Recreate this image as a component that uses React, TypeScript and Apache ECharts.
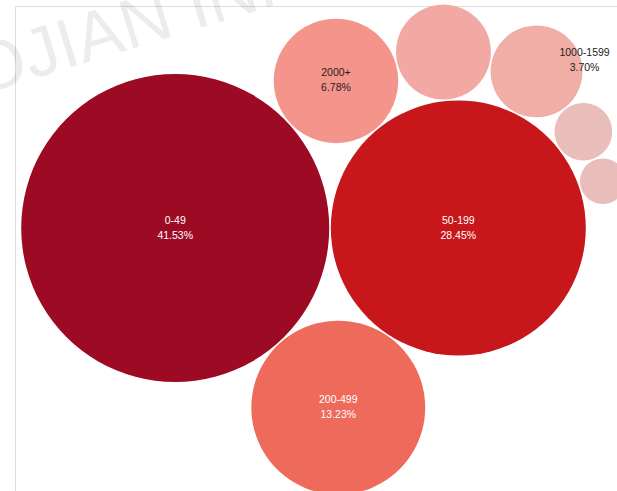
import React, { useEffect, useRef } from 'react';
import * as echarts from 'echarts';

// ---- data ----
const categories = ['0-49', '50-199', '200-499', '2000+', '500-999', '1000-1599', '1600-1999', 'Unknown'];
const shares = [41.53, 28.45, 13.23, 6.78, 3.95, 3.7, 1.45, 0.91];
const colors = ['#9c0a24', '#c8171a', '#ee6a5b', '#f5948a', '#f2a9a3', '#f0aea7', '#e9bdba', '#e9bdba'];
const labelledCategories = ['0-49', '50-199', '200-499', '2000+', '1000-1599'];
const darkTextCategories = ['2000+', '1000-1599'];
const watermarkText = 'OJIAN INFO';

// ---- layout constants ----
const PX_PER_SQRT = 23.9;
const ORIGIN_X = 303.5;
const ORIGIN_Y = 228;
const PACK_PAD = 0.8;
const LABEL_SHIFT: Record<string, [number, number]> = { '1000-1599': [48, -11] };

type Circ = { x: number; y: number; r: number };
type Node = { c: Circ; next?: Node; prev?: Node };

function place(b: Circ, a: Circ, c: Circ) {
  const dx = b.x - a.x;
  const dy = b.y - a.y;
  const d2 = dx * dx + dy * dy;
  if (d2) {
    let a2 = a.r + c.r;
    a2 *= a2;
    let b2 = b.r + c.r;
    b2 *= b2;
    if (a2 > b2) {
      const x = (d2 + b2 - a2) / (2 * d2);
      const y = Math.sqrt(Math.max(0, b2 / d2 - x * x));
      c.x = b.x - x * dx - y * dy;
      c.y = b.y - x * dy + y * dx;
    } else {
      const x = (d2 + a2 - b2) / (2 * d2);
      const y = Math.sqrt(Math.max(0, a2 / d2 - x * x));
      c.x = a.x + x * dx - y * dy;
      c.y = a.y + x * dy + y * dx;
    }
  } else {
    c.x = a.x + c.r;
    c.y = a.y;
  }
}

function intersects(a: Circ, b: Circ) {
  const dr = a.r + b.r - 1e-6;
  const dx = b.x - a.x;
  const dy = b.y - a.y;
  return dr > 0 && dr * dr > dx * dx + dy * dy;
}

// Front-chain packing: each new circle is placed tangent to the last placed
// circle and its clockwise neighbour on the front chain.
function packSiblings(circles: Circ[]) {
  const n = circles.length;
  if (!n) return;
  const a0 = circles[0];
  a0.x = 0;
  a0.y = 0;
  if (n < 2) return;
  const b0 = circles[1];
  a0.x = -b0.r;
  b0.x = a0.r;
  b0.y = 0;
  if (n < 3) return;
  const c0 = circles[2];
  place(b0, a0, c0);
  let a: Node = { c: a0 };
  let b: Node = { c: b0 };
  const c: Node = { c: c0 };
  a.next = c.prev = b;
  b.next = a.prev = c;
  c.next = b.prev = a;
  pack: for (let i = 3; i < n; ++i) {
    const ci = circles[i];
    place(a.c, b.c, ci);
    const node: Node = { c: ci };
    let j = b.next!;
    let k = a.prev!;
    let sj = b.c.r;
    let sk = a.c.r;
    do {
      if (sj <= sk) {
        if (intersects(j.c, ci)) {
          b = j;
          a.next = b;
          b.prev = a;
          --i;
          continue pack;
        }
        sj += j.c.r;
        j = j.next!;
      } else {
        if (intersects(k.c, ci)) {
          a = k;
          a.next = b;
          b.prev = a;
          --i;
          continue pack;
        }
        sk += k.c.r;
        k = k.prev!;
      }
    } while (j !== k.next);
    node.prev = a;
    node.next = b;
    a.next = b.prev = node;
    a = node;
  }
}

function computeLayout(values: number[]) {
  const circles: Circ[] = values.map((v) => ({ x: 0, y: 0, r: PX_PER_SQRT * Math.sqrt(v) + PACK_PAD }));
  packSiblings(circles);
  return circles.map((c) => ({ cx: ORIGIN_X + c.x, cy: ORIGIN_Y + c.y, r: c.r - PACK_PAD }));
}

export default function App() {
  const ref = useRef<HTMLDivElement>(null);
  useEffect(() => {
    if (!ref.current) return;
    const chart = echarts.init(ref.current, undefined, { renderer: 'svg' });
    const layout = computeLayout(shares);
    const font = '"Liberation Sans", Arial, Helvetica, sans-serif';
    chart.setOption({
      animation: false,
      backgroundColor: '#ffffff',
      graphic: [
        {
          type: 'rect',
          z: 0,
          silent: true,
          shape: { x: 15.5, y: 6.5, width: 800, height: 700 },
          style: { fill: 'none', stroke: '#dcdcdc', lineWidth: 1 },
        },
        {
          type: 'text',
          z: 0,
          silent: true,
          x: -38,
          y: 39,
          rotation: (17 * Math.PI) / 180,
          style: {
            text: watermarkText,
            fill: 'rgba(0,0,0,0.075)',
            fontSize: 70,
            fontFamily: font,
            align: 'left',
            textAlign: 'left',
            verticalAlign: 'alphabetic',
          },
        },
      ],
      series: [
        {
          type: 'custom',
          coordinateSystem: 'none',
          z: 2,
          data: shares.map((v, i) => ({ value: v, name: categories[i] })),
          renderItem: (params: any, api: any) => {
            const i = params.dataIndex;
            const name = categories[i];
            const value = api.value(0) as number;
            const p = layout[i];
            const children: any[] = [
              {
                type: 'circle',
                shape: { cx: p.cx, cy: p.cy, r: p.r },
                style: { fill: colors[i] },
              },
            ];
            if (labelledCategories.includes(name)) {
              const shift = LABEL_SHIFT[name] || [0, 0];
              children.push({
                type: 'text',
                x: p.cx + shift[0],
                y: p.cy - 1 + shift[1],
                style: {
                  text: name + '\n' + value.toFixed(2) + '%',
                  fill: darkTextCategories.includes(name) ? '#222222' : '#ffffff',
                  fontSize: 10.5,
                  fontFamily: font,
                  lineHeight: 15,
                  align: 'center',
                  textAlign: 'center',
                  verticalAlign: 'middle',
                  textVerticalAlign: 'middle',
                },
              });
            }
            return { type: 'group', children };
          },
        },
      ],
    });
    return () => chart.dispose();
  }, []);
  return (
    <div
      ref={ref}
      style={{ position: 'absolute', left: 0, top: 0, width: 617, height: 491 }}
    />
  );
}
